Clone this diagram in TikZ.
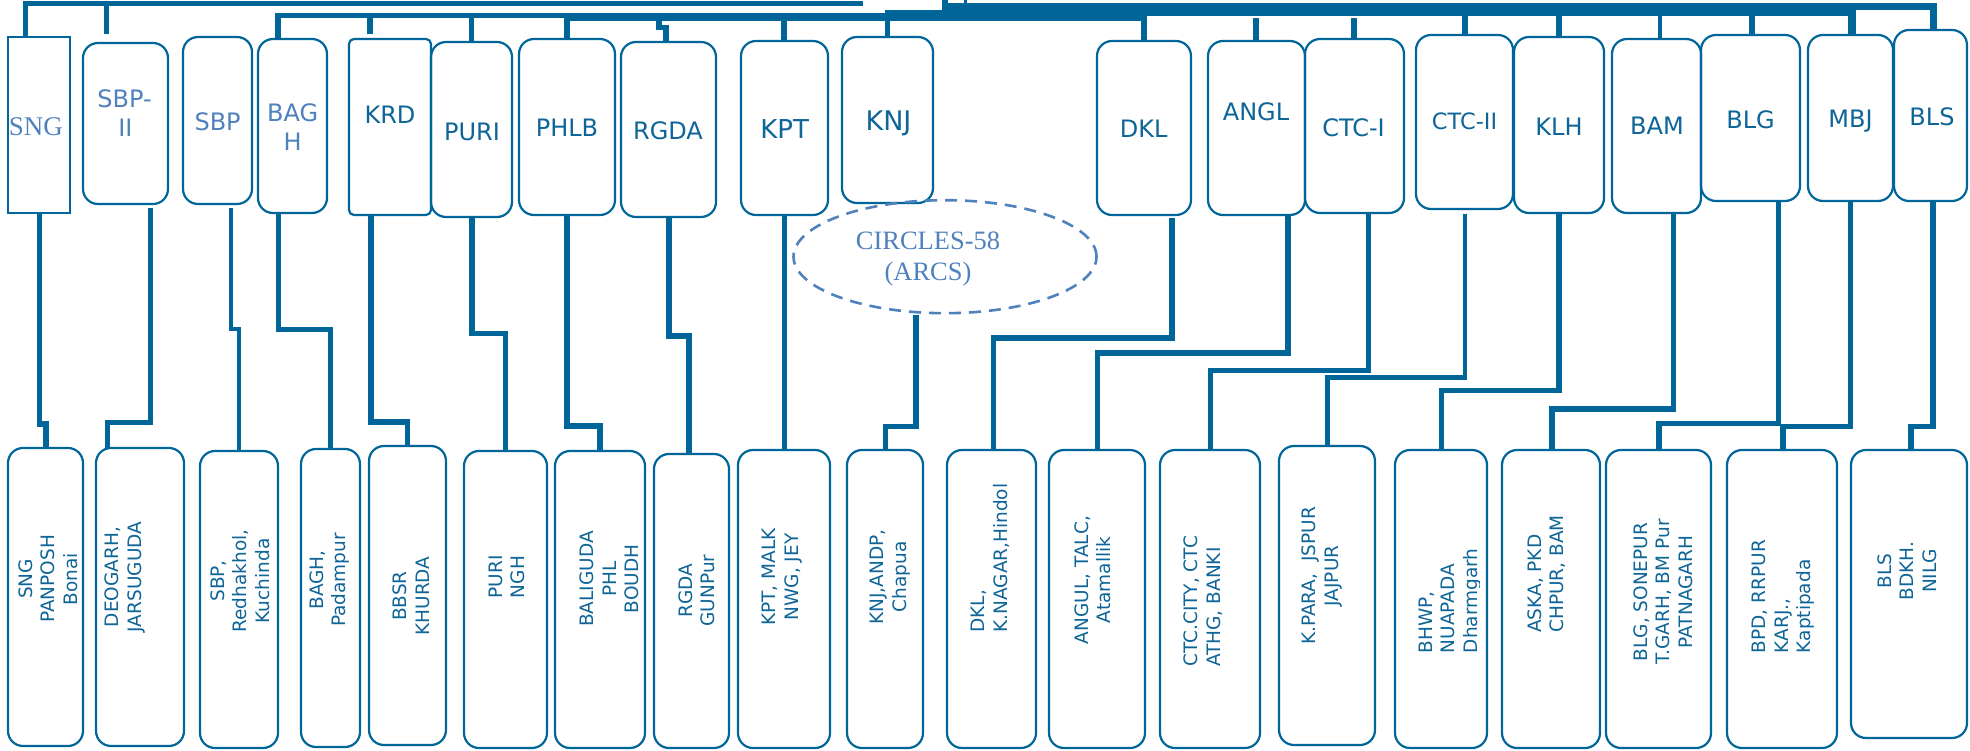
\documentclass[tikz,border=0pt]{standalone}
\usepackage{fontspec}
\setmainfont{DejaVu Sans}
\newfontfamily\serifA{Liberation Serif}
\usetikzlibrary{shapes.geometric}
\definecolor{dblue}{RGB}{0,102,153}
\definecolor{tblue}{RGB}{14,101,152}
\definecolor{lblue}{RGB}{79,129,189}
\tikzset{
  box/.style={draw=dblue, line width=2.2pt, rounded corners=15pt, inner sep=0pt, outer sep=0pt},
  conn/.style={draw=dblue, line width=5.5pt},
  ttxt/.style={text=tblue, inner sep=0pt, font=\fontsize{24}{29}\selectfont, text height=17.5pt, text depth=0pt},
  ltxt/.style={ttxt, text=lblue},
  btxt/.style={text=tblue, inner sep=0pt, font=\fontsize{18.5}{22.5}\selectfont, rotate=90},
}
\newcommand\mkbox[6][]{%
  \node[box,#1,minimum width={(#4-#2)*1pt},minimum height={(#5-#3)*1pt}] (#6) at ({(#2+#4)/2},{(#3+#5)/2}) {};}
\begin{document}
\begin{tikzpicture}[x=1pt,y=-1pt]
\useasboundingbox (0,0) rectangle (1970,751);
\fill[white] (0,0) rectangle (1970,751);
% ---------- top boxes
\mkbox[sharp corners]{8}{37}{70}{213}{sng}
\mkbox{83}{43}{168}{204}{sbpii}
\mkbox{183}{37}{252}{204}{sbp}
\mkbox{258}{39}{327}{213}{bagh}
\mkbox[rounded corners=5pt]{349}{39}{431}{215}{krd}
\mkbox{431}{42}{512}{217}{puri}
\mkbox{519}{39}{615}{215}{phlb}
\mkbox{621}{42}{716}{217}{rgda}
\mkbox{741}{41}{828}{215}{kpt}
\mkbox{842}{37}{933}{203}{knj}
\mkbox{1097}{41}{1191}{215}{dkl}
\mkbox{1208}{41}{1305}{215}{angl}
\mkbox{1305}{39}{1404}{213}{ctci}
\mkbox{1416}{35}{1513}{209}{ctcii}
\mkbox{1514}{37}{1604}{213}{klh}
\mkbox{1612}{39}{1701}{213}{bam}
\mkbox{1701}{35}{1800}{201}{blg}
\mkbox{1808}{35}{1893}{201}{mbj}
\mkbox{1894}{30}{1967}{201}{bls}
% ---------- bottom boxes
\mkbox{8}{448}{83}{746}{b1}
\mkbox{96}{448}{184}{746}{b2}
\mkbox{200}{451}{278}{748}{b3}
\mkbox{301}{449}{360}{747}{b4}
\mkbox{369}{446}{446}{745}{b5}
\mkbox{464}{451}{547}{748}{b6}
\mkbox{555}{451}{645}{748}{b7}
\mkbox{654}{454}{729}{748}{b8}
\mkbox{738}{450}{830}{748}{b9}
\mkbox{847}{450}{923}{748}{b10}
\mkbox{947}{450}{1036}{748}{b11}
\mkbox{1049}{450}{1145}{748}{b12}
\mkbox{1160}{450}{1260}{748}{b13}
\mkbox{1279}{446}{1375}{745}{b14}
\mkbox{1395}{450}{1487}{748}{b15}
\mkbox{1502}{450}{1600}{748}{b16}
\mkbox{1606}{450}{1711}{748}{b17}
\mkbox{1727}{450}{1837}{748}{b18}
\mkbox{1851}{450}{1967}{738}{b19}
% ---------- ellipse
\node[draw=lblue, dash pattern=on 12pt off 8pt, line width=2.6pt, ellipse,
      minimum width=303pt, minimum height=113pt, inner sep=0pt] (circ) at (945,256.7) {};
\node[ltxt, font=\serifA\fontsize{26.5}{32}\selectfont, text height=17.5pt] (circTa) at (928,240.5) {CIRCLES-58};
\node[ltxt, font=\serifA\fontsize{26.5}{32}\selectfont, text height=17.5pt] (circTb) at (928,272) {(ARCS)};
% ---------- top texts
\node[ltxt,font=\serifA\fontsize{27}{32}\selectfont,text height=17.9pt] (sngT) at (35.8,126.7) {SNG};
\node[ltxt] (sbpiiTa) at (124.6,99) {SBP-};
\node[ltxt] (sbpiiTb) at (125.4,128) {II};
\node[ltxt] (sbpT) at (217.6,121.3) {SBP};
\node[ltxt] (baghTa) at (292.7,112.5) {BAG};
\node[ltxt] (baghTb) at (292.6,142) {H};
\node[ttxt] (krdT) at (390,115) {KRD};
\node[ttxt] (puriT) at (472,131.3) {PURI};
\node[ttxt] (phlbT) at (567,127.5) {PHLB};
\node[ttxt] (rgdaT) at (668,130.5) {RGDA};
\node[ttxt,font=\fontsize{26}{30}\selectfont,text height=19pt] (kptT) at (784.6,129.3) {KPT};
\node[ttxt,font=\fontsize{27}{30}\selectfont,text height=19.7pt] (knjT) at (888.5,120.3) {KNJ};
\node[ttxt] (dklT) at (1143.6,129.2) {DKL};
\node[ttxt] (anglT) at (1256,111.3) {ANGL};
\node[ttxt] (ctciT) at (1353.5,127.5) {CTC-I};
\node[ttxt,font=\fontsize{22.5}{28}\selectfont,text height=16.4pt] (ctciiT) at (1464.5,121.3) {CTC-II};
\node[ttxt] (klhT) at (1559,126.7) {KLH};
\node[ttxt] (bamT) at (1657,126.2) {BAM};
\node[ttxt] (blgT) at (1750.6,120) {BLG};
\node[ttxt] (mbjT) at (1850.5,118.7) {MBJ};
\node[ttxt] (blsT) at (1932,116.7) {BLS};
% ---------- bottom texts
\node[btxt,align=center] (b1T) at (48,579) {SNG\\PANPOSH\\Bonai};
\node[btxt,align=center] (b2T) at (125,577) {DEOGARH,\\JARSUGUDA};
\node[btxt,align=center] (b3T) at (240,581) {SBP,\\Redhakhol,\\Kuchinda};
\node[btxt,align=center] (b4T) at (329.4,580) {BAGH,\\Padampur};
\node[btxt,align=center] (b5T) at (411.4,596) {BBSR\\KHURDA};
\node[btxt,align=center] (b6T) at (507,577) {PURI\\NGH};
\node[btxt,align=center] (b7T) at (609.4,579) {BALIGUDA\\PHL\\BOUDH};
\node[btxt,align=center] (b8T) at (697,590.5) {RGDA\\GUNPur};
\node[btxt,align=center] (b9T) at (782,577) {KPT, MALK\\NWG, JEY};
\node[btxt,align=center] (b10T) at (890.4,577) {KNJ,ANDP,\\Chapua};
\node[btxt,align=left,anchor=west] (b11T) at (990.4,632.7) {DKL,\\K.NAGAR,Hindol};
\node[btxt,align=center] (b12T) at (1093,580) {ANGUL, TALC,\\Atamallik};
\node[btxt,align=left,anchor=west] (b13T) at (1203.4,667) {CTC.CITY, CTC\\ATHG, BANKI};
\node[btxt,align=center] (b14T) at (1322,576) {K.PARA,\ \ JSPUR\\JAJPUR};
\begin{scope}
\clip (1390,440) rectangle (1479.5,750);
\node[btxt,align=left,anchor=west] (b15T) at (1450,653.3) {BHWP,\\NUAPADA\\Dharmgarh};
\end{scope}
\node[btxt,align=left,anchor=west] (b16T) at (1546.5,633) {ASKA, PKD\\CHPUR, BAM};
\node[btxt,align=center] (b17T) at (1663,592) {BLG, SONEPUR\\T.GARH, BM Pur\\PATNAGARH};
\node[btxt,align=left,anchor=west] (b18T) at (1783.5,653.3) {BPD, RRPUR\\KARJ.,\\Kaptipada};
\node[btxt,align=center] (b19T) at (1907,571) {BLS\\BDKH.\\NILG};
% ---------- top buses
\coordinate (busAr) at (863,3.5);
\draw[conn,line width=5pt] (sng.north -| 25,0) |- (busAr);
\draw[conn,line width=5pt] (106.7,3.5) -- (106.7,34);
\coordinate (busBr) at (945,15.5);
\draw[conn,line width=5.6pt] (bagh.north -| 278,0) |- (busBr);
\draw[conn] (370,15.5) -- (370,34);
\draw[conn] (471.5,15.5) -- (puri.north -| 471.5,0);
\draw[conn] (658.8,15.5) -- (658.8,27.5) -- (666,27.5) -- (rgda.north -| 666,0);
\draw[conn] (784,15.5) -- (kpt.north -| 784,0);
\draw[conn] (887.5,15.5) -- (knj.north -| 887.5,0);
\draw[conn,line width=5.4pt] (phlb.north -| 567,0) |- (1144,18) -- (dkl.north -| 1144,0);
\draw[conn,line width=10pt] (885,15) -- (947,15);
\draw[conn,line width=6pt] (945,0) -- (945,20);
\draw[conn,line width=3pt] (965,0) -- (965,4);
\coordinate (busC1) at (942,6.5);
\coordinate (busC2) at (942,12);
\draw[conn,line width=6.5pt] (busC1) -| (bls.north -| 1933.5,0);
\draw[conn,line width=8pt] (busC2) -| (mbj.north -| 1851.5,0);
\draw[conn] (1465,12) -- (ctcii.north -| 1465,0);
\draw[conn] (1559,12) -- (klh.north -| 1559,0);
\draw[conn,line width=4pt] (1660,12) -- (bam.north -| 1660,0);
\draw[conn] (1752,12) -- (blg.north -| 1752,0);
\draw[conn] (1256,18.3) -- (angl.north -| 1256,0);
\draw[conn] (1354,18.3) -- (ctci.north -| 1354,0);
% ---------- lower connectors
\draw[conn] (sng.south -| 39.5,0) |- (46,424) -- (b1.north -| 46,0);
\draw[conn,line width=5pt] ([yshift=-4pt]sbpii.south -| 150,0) |- (107,422.5) -- (b2.north -| 107,0);
\draw[conn,line width=4.5pt] ([yshift=-4pt]sbp.south -| 231,0) |- (239,329) -- (b3.north -| 239,0);
\draw[conn] (bagh.south -| 278.3,0) |- (330.4,329.5) -- (b4.north -| 330.4,0);
\draw[conn] (krd.south -| 371,0) |- (407.5,422) -- (b5.north -| 407.5,0);
\draw[conn] (puri.south -| 472,0) |- (505.7,333.5) -- (b6.north -| 505.7,0);
\draw[conn] (phlb.south -| 567,0) |- (599.8,426) -- (b7.north -| 599.8,0);
\draw[conn] (rgda.south -| 668.8,0) |- (689,335.8) -- (b8.north -| 689,0);
\draw[conn] (kpt.south -| 784.3,0) -- (b9.north -| 784.3,0);
\draw[conn] (circ.south -| 916,0) |- (885.5,426.5) -- (b10.north -| 885.5,0);
\draw[conn] ([yshift=-3pt]dkl.south -| 1171.8,0) |- (993.5,337.8) -- (b11.north -| 993.5,0);
\draw[conn] (angl.south -| 1288,0) |- (1097.3,352.8) -- (b12.north -| 1097.3,0);
\draw[conn] (ctci.south -| 1368.5,0) |- (1210.5,370.5) -- (b13.north -| 1210.5,0);
\draw[conn,line width=4.8pt] ([yshift=-5pt]ctcii.south -| 1465,0) |- (1327.4,377.8) -- (b14.north -| 1327.4,0);
\draw[conn] (klh.south -| 1559,0) |- (1441.4,390.5) -- (b15.north -| 1441.4,0);
\draw[conn] (bam.south -| 1673.3,0) |- (1552,408.8) -- (b16.north -| 1552,0);
\draw[conn] (blg.south -| 1778.5,0) |- (1659.2,423.3) -- (b17.north -| 1659.2,0);
\draw[conn] (mbj.south -| 1850.5,0) |- (1782.8,426.7) -- (b18.north -| 1782.8,0);
\draw[conn] (bls.south -| 1932.8,0) |- (1910.8,426.3) -- (b19.north -| 1910.8,0);
\end{tikzpicture}
\end{document}
